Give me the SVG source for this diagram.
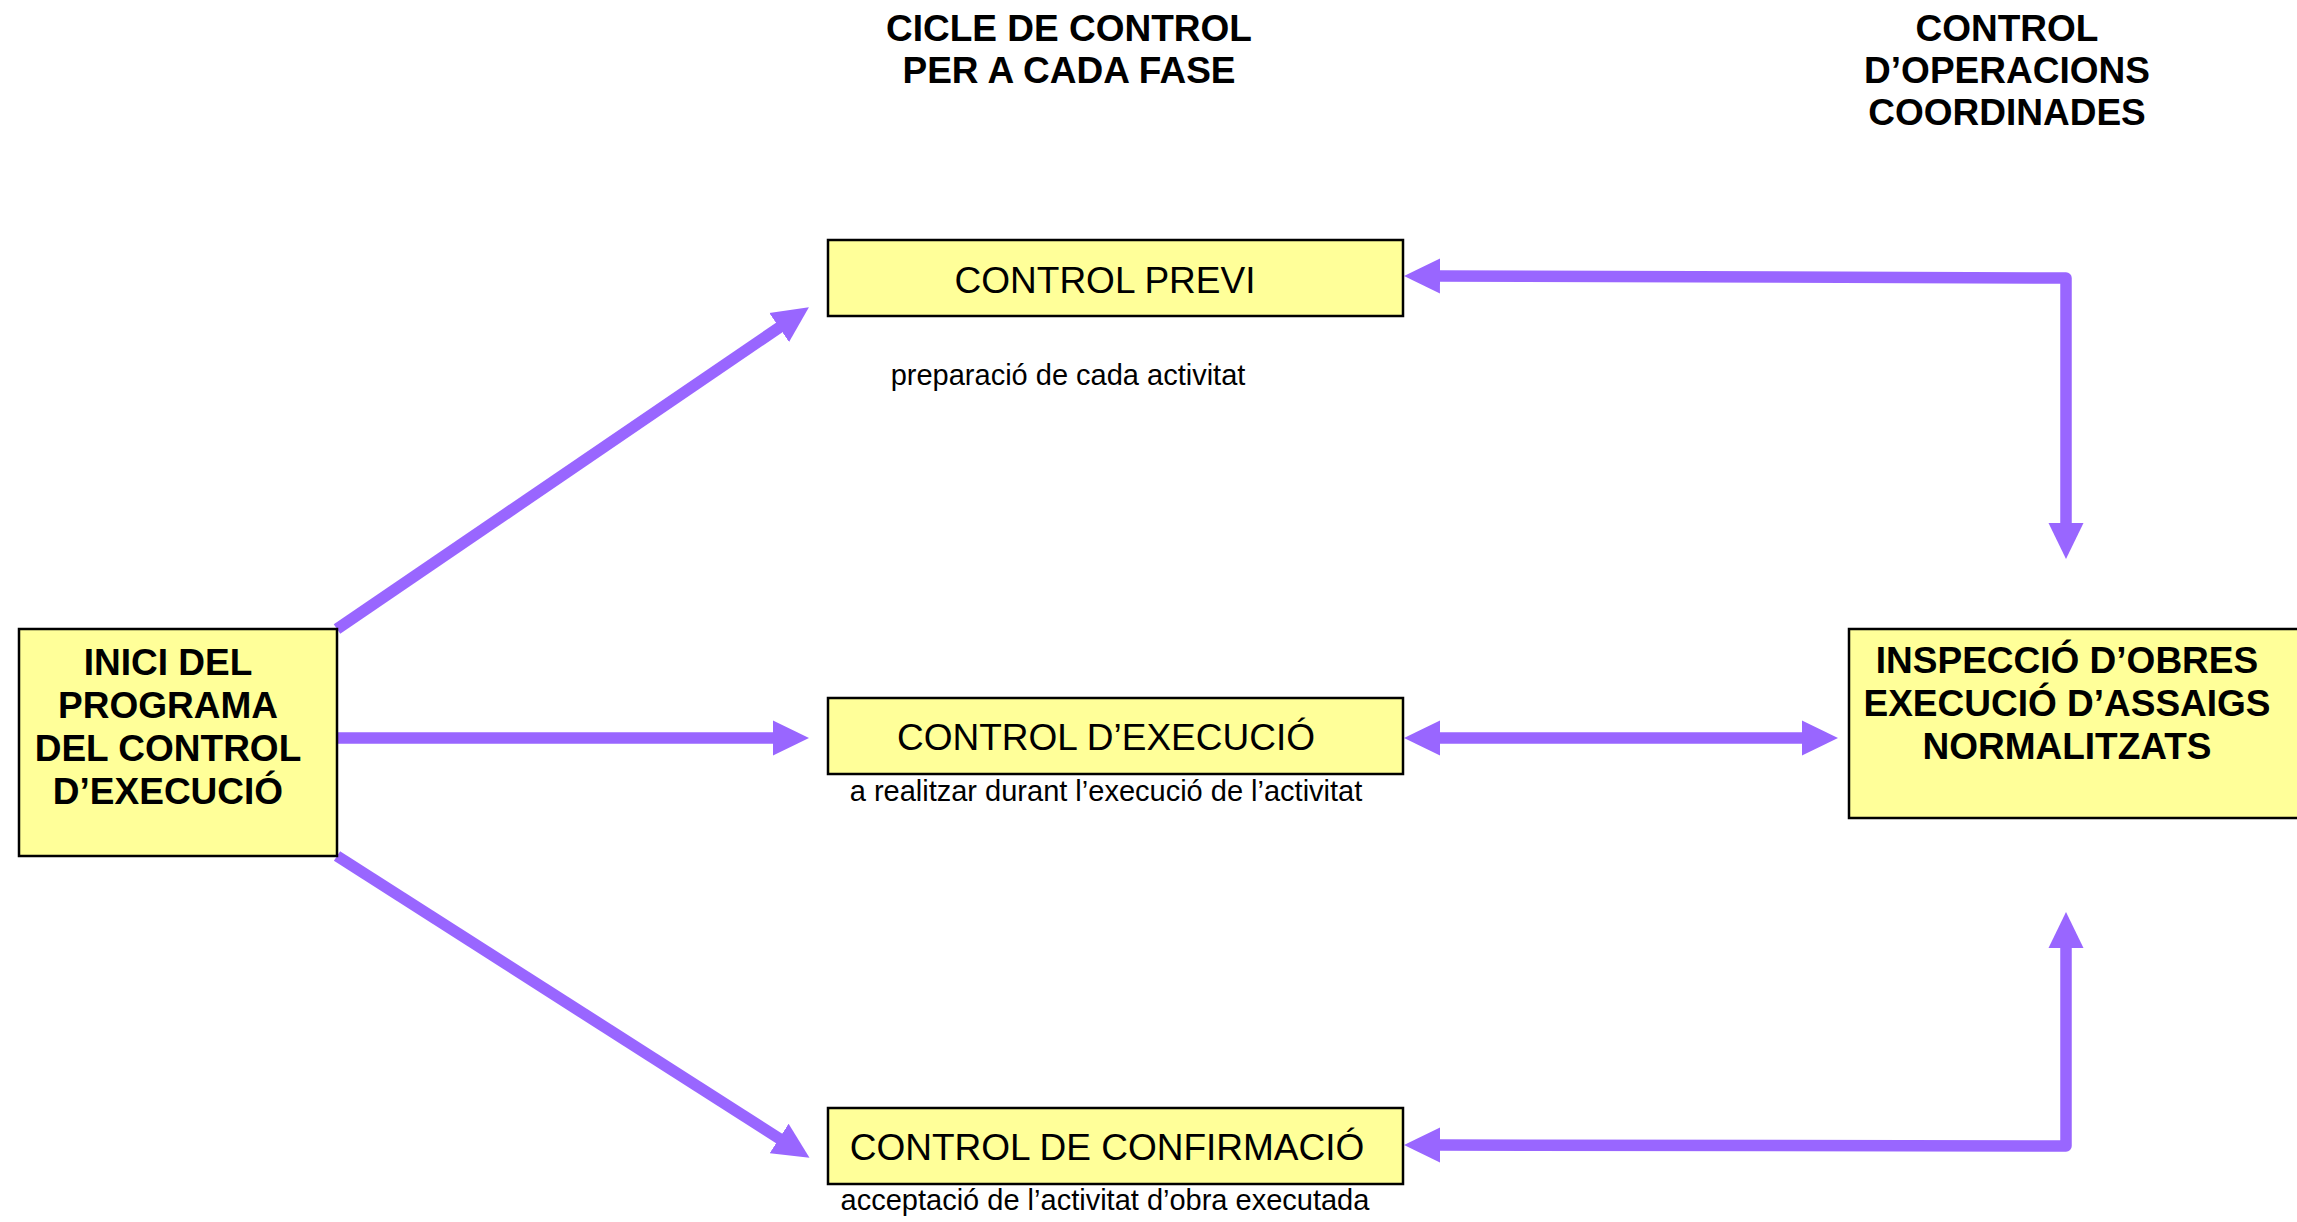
<svg xmlns="http://www.w3.org/2000/svg" width="2297" height="1222" viewBox="0 0 2297 1222">
<style>
  .box { fill: #FFFF99; stroke: #000000; stroke-width: 2.5; }
  .t { font-family: "Liberation Sans", Arial, sans-serif; fill: #000000; text-anchor: middle; }
  .big { font-size: 37px; }
  .bold { font-size: 37px; font-weight: bold; }
  .small { font-size: 29px; }
  .conn { fill: none; stroke: #9966FF; stroke-width: 11.5; stroke-linejoin: round; }
</style>
<defs>
  <marker id="ah" markerUnits="userSpaceOnUse" markerWidth="37" markerHeight="36" refX="1" refY="17.5" orient="auto-start-reverse" viewBox="0 0 37 35">
    <path d="M0,0 L36,17.5 L0,35 Z" fill="#9966FF"/>
  </marker>
</defs>
<rect width="2297" height="1222" fill="#FFFFFF"/>

<g id="titles">
  <text class="t bold" x="1069" y="41">CICLE DE CONTROL</text>
  <text class="t bold" x="1069" y="83">PER A CADA FASE</text>
  <text class="t bold" x="2007" y="41">CONTROL</text>
  <text class="t bold" x="2007" y="83">D’OPERACIONS</text>
  <text class="t bold" x="2007" y="125">COORDINADES</text>
</g>

<g id="connectors">
  <line class="conn" x1="337" y1="629" x2="780" y2="327" marker-end="url(#ah)"/>
  <line class="conn" x1="337" y1="738" x2="774" y2="738" marker-end="url(#ah)"/>
  <line class="conn" x1="337" y1="856" x2="780" y2="1139" marker-end="url(#ah)"/>
  <path class="conn" d="M1439,276 L2066,278 L2066,524" marker-start="url(#ah)" marker-end="url(#ah)"/>
  <line class="conn" x1="1439" y1="738" x2="1803" y2="738" marker-start="url(#ah)" marker-end="url(#ah)"/>
  <path class="conn" d="M2066,947 L2066,1146 L1439,1145" marker-start="url(#ah)" marker-end="url(#ah)"/>
</g>

<g id="inici">
  <rect class="box" x="19" y="629" width="318" height="227"/>
  <text class="t bold" x="168" y="675">INICI DEL</text>
  <text class="t bold" x="168" y="718">PROGRAMA</text>
  <text class="t bold" x="168" y="761">DEL CONTROL</text>
  <text class="t bold" x="168" y="804">D’EXECUCIÓ</text>
</g>

<g id="control-previ">
  <rect class="box" x="828" y="240" width="575" height="76"/>
  <text class="t big" x="1105" y="293">CONTROL PREVI</text>
  <text class="t small" x="1068" y="385">preparació de cada activitat</text>
</g>

<g id="control-execucio">
  <rect class="box" x="828" y="698" width="575" height="76"/>
  <text class="t big" x="1106" y="750">CONTROL D’EXECUCIÓ</text>
  <text class="t small" x="1106" y="801">a realitzar durant l’execució de l’activitat</text>
</g>

<g id="control-confirmacio">
  <rect class="box" x="828" y="1108" width="575" height="76"/>
  <text class="t big" x="1107" y="1160">CONTROL DE CONFIRMACIÓ</text>
  <text class="t small" x="1105" y="1210">acceptació de l’activitat d’obra executada</text>
</g>

<g id="inspeccio">
  <rect class="box" x="1849" y="629" width="470" height="189"/>
  <text class="t bold" x="2067" y="673">INSPECCIÓ D’OBRES</text>
  <text class="t bold" x="2067" y="716">EXECUCIÓ D’ASSAIGS</text>
  <text class="t bold" x="2067" y="759">NORMALITZATS</text>
</g>
</svg>
